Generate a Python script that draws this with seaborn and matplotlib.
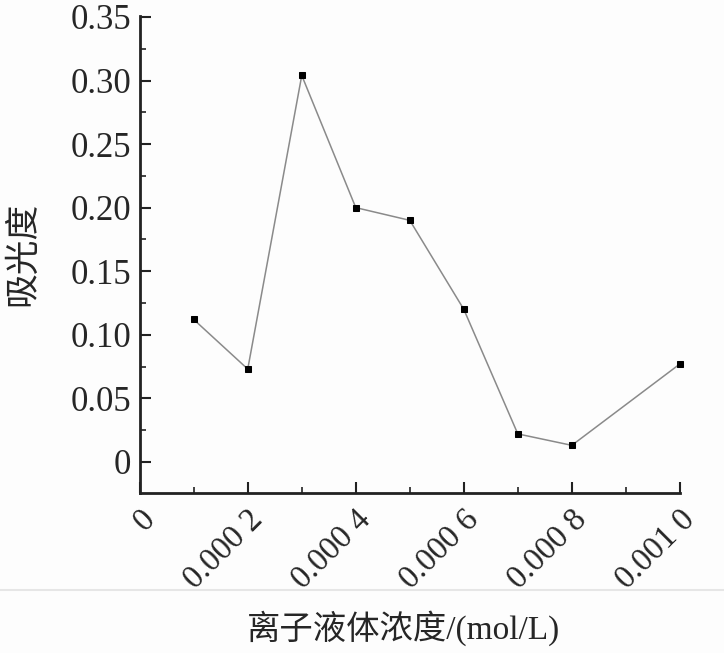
import numpy as np
import pandas as pd
import matplotlib
matplotlib.use('Agg')
import matplotlib.pyplot as plt
import seaborn as sns
from matplotlib.lines import Line2D
from matplotlib.ticker import MultipleLocator

# data
conc = [0.0001, 0.0002, 0.0003, 0.0004, 0.0005, 0.0006, 0.0007, 0.0008, 0.0010]
absorb = [0.112, 0.073, 0.304, 0.200, 0.190, 0.120, 0.022, 0.013, 0.077]

xticks = [0, 0.0002, 0.0004, 0.0006, 0.0008, 0.0010]
xticklabels = ['0', '0.000 2', '0.000 4', '0.000 6', '0.000 8', '0.001 0']
yticks = [0, 0.05, 0.10, 0.15, 0.20, 0.25, 0.30, 0.35]
yticklabels = ['0', '0.05', '0.10', '0.15', '0.20', '0.25', '0.30', '0.35']

df = pd.DataFrame({'conc': conc, 'absorb': absorb})

sns.set_style('ticks')
plt.rcParams['font.family'] = ['Liberation Serif', 'Noto Sans CJK SC', 'DejaVu Sans']

fig = plt.figure(figsize=(7.24, 6.53), dpi=100, facecolor='#fdfdfd')
ax = fig.add_axes([0.193, 0.245, 0.746, 0.731])
ax.set_facecolor('#fdfdfd')

sns.lineplot(data=df, x='conc', y='absorb', ax=ax, color='#8a8a8a', linewidth=1.1,
             marker='s', markersize=5, markerfacecolor='black', markeredgecolor='black',
             clip_on=False)

ax.set_xlim(0, 0.0010)
ax.set_ylim(-0.0245, 0.351)
ax.set_xticks(xticks)
ax.set_xticklabels(xticklabels, rotation=45, ha='right', va='top', rotation_mode='anchor')
ax.set_yticks(yticks)
ax.set_yticklabels(yticklabels)
ax.xaxis.set_minor_locator(MultipleLocator(0.0001))
ax.yaxis.set_minor_locator(MultipleLocator(0.025))

ax.tick_params(which='major', direction='in', length=8, width=1.5, labelsize=25, color='#222222')
ax.tick_params(which='minor', direction='in', length=4, width=1.2, color='#222222')
ax.tick_params(axis='x', which='major', pad=8, labelsize=23.5)
ax.tick_params(axis='y', which='major', pad=6)

for s in ['top', 'right']:
    ax.spines[s].set_visible(False)
for s in ['left', 'bottom']:
    ax.spines[s].set_linewidth(2)
    ax.spines[s].set_color('#222222')

ax.set_xlabel('')
ax.set_ylabel('吸光度', fontsize=25, labelpad=22,
              family=['Noto Sans CJK SC', 'DejaVu Sans'])

fig.add_artist(Line2D([0, 1], [1 - 590 / 653, 1 - 590 / 653], color='#e6e6e6', linewidth=1.5))
fig.text(0.557, 1 - 628 / 653, '离子液体浓度/(mol/L)', fontsize=24, ha='center', va='center',
         family=['Liberation Serif', 'Noto Sans CJK SC'])

fig.savefig('out.png', dpi=100, facecolor=fig.get_facecolor())
